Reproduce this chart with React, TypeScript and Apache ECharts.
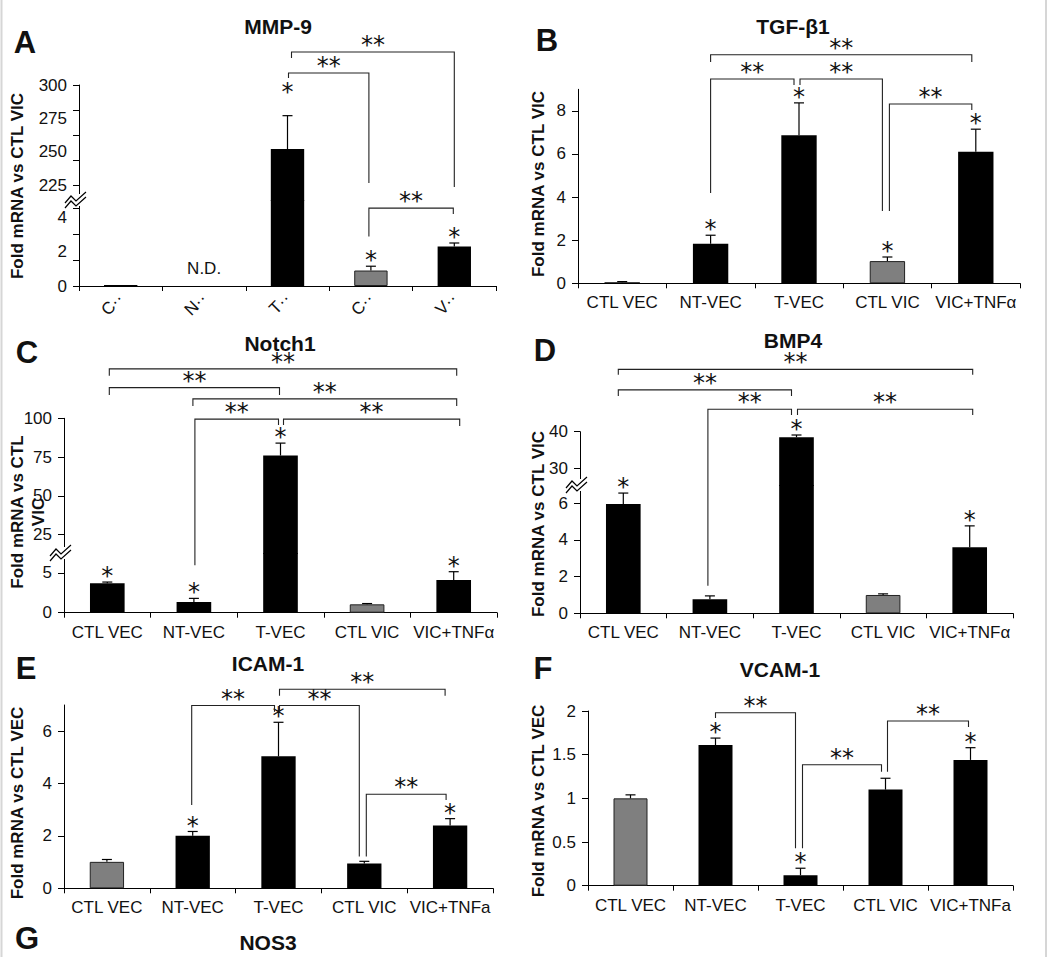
import { useEffect, useRef } from 'react';
import * as echarts from 'echarts';

const FONT = '"Liberation Sans", Arial, Helvetica, sans-serif';
const STAR_FONT = '"DejaVu Sans", "Liberation Sans", sans-serif';

// ---------- categories ----------
const groupsFull = ['CTL VEC', 'NT-VEC', 'T-VEC', 'CTL VIC', 'VIC+TNFα'];
const groupsShortA = ['C··', 'N··', 'T··', 'C··', 'V··'];
const groupsEF = ['CTL VEC', 'NT-VEC', 'T-VEC', 'CTL VIC', 'VIC+TNFa'];

// ---------- data (mean fold change, upper SEM) ----------
const mmp9Mean = [0.06, 0, 252, 0.9, 2.3];
const mmp9Err = [0, 0, 25, 0.25, 0.2];
const tgfb1Mean = [0.05, 1.83, 6.87, 1.03, 6.1];
const tgfb1Err = [0.03, 0.4, 1.5, 0.19, 1.05];
const notch1Mean = [3.7, 1.35, 76, 1.05, 4.1];
const notch1Err = [0.15, 0.45, 8, 0.1, 1.05];
const bmp4Mean = [5.96, 0.77, 38.5, 1.0, 3.6];
const bmp4Err = [0.6, 0.18, 0.6, 0.06, 1.17];
const icam1Mean = [1.01, 2.01, 5.04, 0.95, 2.4];
const icam1Err = [0.09, 0.16, 1.3, 0.08, 0.26];
const vcam1Mean = [1.0, 1.61, 0.12, 1.1, 1.44];
const vcam1Err = [0.04, 0.08, 0.08, 0.13, 0.14];

// significance vs control (single star)
const mmp9Stars = [0, 0, 1, 1, 1];
const tgfb1Stars = [0, 1, 1, 1, 1];
const notch1Stars = [1, 1, 1, 0, 1];
const bmp4Stars = [1, 0, 1, 0, 1];
const icam1Stars = [0, 1, 1, 0, 1];
const vcam1Stars = [0, 1, 1, 0, 1];

// not detected
const mmp9ND = [0, 1, 0, 0, 0];

// ---------- axis ticks ----------
const mmp9UpperTicks = [225, 243.75, 262.5, 281.25, 300];
const mmp9UpperLabels = [225, 250, 275, 300];
const mmp9LowerTicks = [0, 1.5, 3, 4.5];
const mmp9LowerLabels = [0, 2, 4];
const tgfb1Ticks = [0, 2, 4, 6, 8];
const notch1UpperTicks = [25, 50, 75, 100];
const notch1LowerTicks = [0, 5];
const bmp4UpperTicks = [30, 40];
const bmp4LowerTicks = [0, 2, 4, 6];
const icam1Ticks = [0, 2, 4, 6];
const vcam1Ticks = [0, 0.5, 1, 1.5, 2];

// ---------- significance brackets: [from, to, level, leftEnd, rightEnd] (data units) ----------
const mmp9Brackets = [
  [2, 3, 309, 305.3, 226.5],
  [2, 4, 324.8, 320.3, 223.5],
  [3, 4, 4.53, 2.88, 4.18],
];
const tgfb1Brackets = [
  [1, 2, 9.48, 4.19, 9.2],
  [2, 3, 9.48, 9.2, 3.35],
  [1, 4, 10.6, 10.27, 10.27],
  [3, 4, 8.32, 3.35, 8.04],
];
const notch1Brackets = [
  [0, 4, 131.9, 127.4, 127.4],
  [0, 2, 119.8, 115.1, 115.1],
  [1, 4, 112.5, 108, 108],
  [1, 2, 99.5, 5.97, 95.7],
  [2, 4, 99.5, 95.7, 95],
];
const bmp4Brackets = [
  [0, 4, 57.0, 55.5, 55.5],
  [0, 2, 51.4, 49.7, 49.7],
  [1, 2, 46.1, 1.5, 44.55],
  [2, 4, 46.1, 44.55, 44.55],
];
const icam1Brackets = [
  [1, 2, 6.98, 3.18, 6.74],
  [2, 3, 6.98, 6.74, 1.21],
  [2, 4, 7.6, 7.35, 7.35],
  [3, 4, 3.59, 1.21, 3.37],
];
const vcam1Brackets = [
  [1, 2, 1.98, 1.92, 0.43],
  [2, 3, 1.385, 0.43, 1.305],
  [3, 4, 1.885, 1.305, 1.817],
];

// ---------- layout (pixels) ----------
type Seg = { top: number; bottom: number; min: number; max: number; ticks: number[]; labels: number[] };
type Panel = {
  letter: string; letterPos: [number, number];
  title: string; titlePos: [number, number];
  yName: string; yNamePos: [number, number];
  cats: string[]; rotate: number;
  mean: number[]; err: number[]; stars: number[]; nd?: number[];
  gray: number; brackets: number[][]; nudges: number[][]; starLift?: Record<number, number>;
  x0: number; x1: number; lower: Seg; upper?: Seg;
  gi?: number[];
};

const panels: Panel[] = [
  {
    letter: 'A', letterPos: [25, 42], title: 'MMP-9', titlePos: [278, 26],
    yName: 'Fold mRNA vs CTL VIC', yNamePos: [17, 186],
    cats: groupsShortA, rotate: 45, mean: mmp9Mean, err: mmp9Err, stars: mmp9Stars, nd: mmp9ND,
    gray: 3, brackets: mmp9Brackets, nudges: [[1, -2], [4, 0], [-2, -1]], starLift: { 2: 18 },
    x0: 79, x1: 496,
    lower: { top: 200, bottom: 286, min: 0, max: 5, ticks: mmp9LowerTicks, labels: mmp9LowerLabels },
    upper: { top: 85, bottom: 201, min: 213, max: 300, ticks: mmp9UpperTicks, labels: mmp9UpperLabels },
  },
  {
    letter: 'B', letterPos: [547, 40], title: 'TGF-β1', titlePos: [793, 26],
    yName: 'Fold mRNA vs CTL VIC', yNamePos: [538, 184],
    cats: groupsFull, rotate: 0, mean: tgfb1Mean, err: tgfb1Err, stars: tgfb1Stars,
    gray: 3, brackets: tgfb1Brackets, nudges: [[0, -5], [1, -5], [0, -4], [2, -4]],
    x0: 578, x1: 1020,
    lower: { top: 89.3, bottom: 283.3, min: 0, max: 9, ticks: tgfb1Ticks, labels: tgfb1Ticks },
  },
  {
    letter: 'C', letterPos: [27, 352], title: 'Notch1', titlePos: [280, 343],
    yName: 'Fold mRNA vs CTL\nVIC', yNamePos: [27.5, 512],
    cats: groupsFull, rotate: 0, mean: notch1Mean, err: notch1Err, stars: notch1Stars,
    gray: 3, brackets: notch1Brackets, nudges: [[2, 3], [2, -1], [-1, 3], [1, -2], [3, 6]],
    x0: 64, x1: 497,
    lower: { top: 553, bottom: 612.7, min: 0, max: 7.5, ticks: notch1LowerTicks, labels: notch1LowerTicks },
    upper: { top: 418.3, bottom: 554, min: 12.5, max: 100, ticks: notch1UpperTicks, labels: notch1UpperTicks },
  },
  {
    letter: 'D', letterPos: [545, 350], title: 'BMP4', titlePos: [793, 340],
    yName: 'Fold mRNA vs CTL VIC', yNamePos: [538, 524],
    cats: groupsFull, rotate: 0, mean: bmp4Mean, err: bmp4Err, stars: bmp4Stars,
    gray: 3, brackets: bmp4Brackets, nudges: [[-5, 3], [-5, -5], [-2, -5], [1, 3]],
    x0: 580, x1: 1013,
    lower: { top: 485, bottom: 613.3, min: 0, max: 7, ticks: bmp4LowerTicks, labels: bmp4LowerTicks },
    upper: { top: 431.7, bottom: 486, min: 25.2, max: 40, ticks: bmp4UpperTicks, labels: bmp4UpperTicks },
  },
  {
    letter: 'E', letterPos: [26, 668], title: 'ICAM-1', titlePos: [268, 663],
    yName: 'Fold mRNA vs CTL VEC', yNamePos: [17, 803],
    cats: groupsEF, rotate: 0, mean: icam1Mean, err: icam1Err, stars: icam1Stars,
    gray: 0, brackets: icam1Brackets, nudges: [[-1, -4], [1, -5], [1, -5], [2, -4]],
    x0: 64, x1: 493,
    lower: { top: 705, bottom: 888.3, min: 0, max: 7, ticks: icam1Ticks, labels: icam1Ticks },
  },
  {
    letter: 'F', letterPos: [543, 668], title: 'VCAM-1', titlePos: [780, 669],
    yName: 'Fold mRNA vs CTL VEC', yNamePos: [538, 801],
    cats: groupsEF, rotate: 0, mean: vcam1Mean, err: vcam1Err, stars: vcam1Stars,
    gray: 0, brackets: vcam1Brackets, nudges: [[0, -5], [2, -4], [2, -2]],
    x0: 588, x1: 1013,
    lower: { top: 711, bottom: 885.7, min: 0, max: 2, ticks: vcam1Ticks, labels: vcam1Ticks },
  },
];

const TEXT = '#111';

function buildOption() {
  const grid: any[] = [];
  const xAxis: any[] = [];
  const yAxis: any[] = [];
  const series: any[] = [];
  panels.forEach((p) => {
    const segs = p.upper ? [p.lower, p.upper] : [p.lower];
    p.gi = [];
    segs.forEach((s, si) => {
      const gi = grid.length;
      p.gi!.push(gi);
      const isLower = si === 0;
      grid.push({ left: p.x0, width: p.x1 - p.x0, top: s.top, height: s.bottom - s.top, outerBoundsMode: 'none' });
      xAxis.push({
        type: 'category', gridIndex: gi, data: p.cats, show: isLower,
        axisLine: { lineStyle: { color: '#000', width: 1 } },
        axisTick: { show: true, length: 5, lineStyle: { color: '#000' } },
        axisLabel: {
          show: true, interval: 0, color: TEXT, fontFamily: FONT, fontSize: 17, margin: p.rotate ? 10 : 11,
          rotate: p.rotate,
        },
        splitLine: { show: false },
      });
      yAxis.push({
        type: 'value', gridIndex: gi, min: s.min, max: s.max,
        splitLine: { show: false },
        axisLine: { show: true, lineStyle: { color: '#000', width: 1 } },
        axisTick: { show: true, length: 6, lineStyle: { color: '#000' }, customValues: s.ticks },
        axisLabel: { color: TEXT, fontFamily: FONT, fontSize: 17, margin: 12, customValues: s.labels },
      });
      series.push({
        type: 'bar', xAxisIndex: gi, yAxisIndex: gi, barWidth: '40%', clip: true,
        data: p.mean.map((v, i) => ({
          value: v,
          itemStyle: i === p.gray
            ? { color: '#7f7f7f', borderColor: '#222', borderWidth: 1 }
            : { color: '#000' },
        })),
      });
      const segMin = s.min;
      const segMax = s.max;
      series.push({
        type: 'custom', xAxisIndex: gi, yAxisIndex: gi, clip: false, z: 3,
        data: p.mean.map((v, i) => [i, v, p.err[i]]),
        renderItem: (_params: any, api: any) => {
          const i = api.value(0);
          const m = api.value(1);
          const e = api.value(2);
          if (!(e > 0) || m < segMin || m + e > segMax) return null;
          const a = api.coord([i, m]);
          const b = api.coord([i, m + e]);
          return {
            type: 'group',
            children: [
              { type: 'line', shape: { x1: a[0], y1: a[1], x2: b[0], y2: b[1] }, style: { stroke: '#000', lineWidth: 1.2 } },
              { type: 'line', shape: { x1: b[0] - 5, y1: b[1], x2: b[0] + 5, y2: b[1] }, style: { stroke: '#000', lineWidth: 1.2 } },
            ],
          };
        },
      });
    });
  });
  return {
    animation: false,
    backgroundColor: '#fff',
    grid, xAxis, yAxis, series,
  };
}

function buildGraphics(chart: any) {
  const els: any[] = [];
  const txt = (x: number, y: number, text: string, size: number, bold: boolean, extra: any = {}, family = FONT) => ({
    type: 'text', x, y, silent: true, ...extra,
    style: {
      text, fill: TEXT, font: `${bold ? 'bold ' : ''}${size}px ${family}`,
      align: 'center', verticalAlign: 'middle', ...(extra.style || {}),
    },
  });
  // frame lines
  els.push({ type: 'line', shape: { x1: 1.5, y1: 0, x2: 1.5, y2: 957 }, style: { stroke: '#d6d6d6', lineWidth: 2 } });
  els.push({ type: 'line', shape: { x1: 1046, y1: 0, x2: 1046, y2: 957 }, style: { stroke: '#d6d6d6', lineWidth: 2 } });

  const STAR = 24;
  const starShift = STAR * 0.21;

  panels.forEach((p) => {
    const gi = p.gi!;
    const px = (c: number) => chart.convertToPixel({ xAxisIndex: gi[0] }, c) as number;
    const py = (v: number) => {
      const up = p.upper && v > p.lower.max;
      return chart.convertToPixel({ yAxisIndex: up ? gi[1] : gi[0] }, v) as number;
    };
    els.push(txt(p.letterPos[0], p.letterPos[1], p.letter, 31, true));
    els.push(txt(p.titlePos[0], p.titlePos[1], p.title, 21, true));
    els.push(txt(p.yNamePos[0], p.yNamePos[1], p.yName, 17, true, { rotation: Math.PI / 2, style: { lineHeight: 21 } }));

    // axis break marker
    if (p.upper) {
      const bx = p.x0;
      const by = py(p.lower.max);
      els.push({ type: 'rect', shape: { x: bx - 3, y: by - 6, width: 6, height: 12 }, style: { fill: '#fff' }, z: 50 });
      const zig = (dy: number) => ({
        type: 'polyline', z: 51,
        shape: { points: [[bx - 14, by + 3 + dy], [bx - 8, by - 4 + dy], [bx - 3, by + 1 + dy], [bx + 7, by - 8 + dy]] },
        style: { stroke: '#000', lineWidth: 1.2, fill: null },
      });
      els.push(zig(0));
      els.push(zig(5));
    }

    // stars
    p.stars.forEach((s, i) => {
      if (!s) return;
      const top = py(p.mean[i] + p.err[i]);
      const lift = (p.starLift && p.starLift[i]) || 0;
      els.push(txt(px(i), top - 11 - lift + starShift, '*', STAR, false, {}, STAR_FONT));
    });

    // N.D.
    if (p.nd) {
      p.nd.forEach((d, i) => {
        if (!d) return;
        els.push(txt(px(i), py(0) - 18, 'N.D.', 17, false));
      });
    }

    // brackets
    p.brackets.forEach((b, k) => {
      const [from, to, level, lEnd, rEnd] = b;
      const nd = p.nudges[k] || [0, 0];
      const xl = px(from) + nd[0];
      const xr = px(to) + nd[1];
      const yt = py(level);
      els.push({
        type: 'polyline', z: 10,
        shape: { points: [[xl, py(lEnd)], [xl, yt], [xr, yt], [xr, py(rEnd)]] },
        style: { stroke: '#222', lineWidth: 1.1, fill: null },
      });
      els.push(txt((xl + xr) / 2, yt - 12 + starShift, '**', STAR, false, {}, STAR_FONT));
    });
  });

  // panel G header (cut off at bottom of figure)
  els.push(txt(27, 938, 'G', 31, true));
  els.push(txt(268, 942, 'NOS3', 21, true));
  return els;
}

export default function App() {
  const ref = useRef<HTMLDivElement>(null);
  useEffect(() => {
    if (!ref.current) return;
    const chart = echarts.init(ref.current, undefined, { renderer: 'svg' });
    chart.setOption(buildOption() as any);
    chart.setOption({ graphic: { elements: buildGraphics(chart) } } as any);
    return () => chart.dispose();
  }, []);
  return (
    <div
      ref={ref}
      style={{ position: 'absolute', left: 0, top: 0, width: 1050, height: 957, background: '#fff' }}
    />
  );
}
